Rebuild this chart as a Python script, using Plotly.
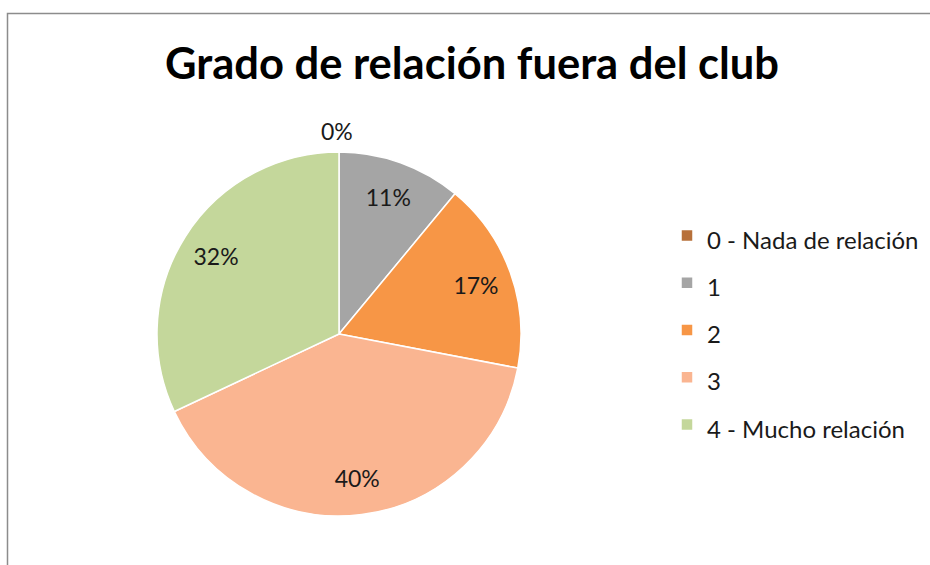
import plotly.graph_objects as go

categories = ["0 - Nada de relación", "1", "2", "3", "4 - Mucho relación"]
values = [0, 11, 17, 40, 32]
colors = ["#B7703A", "#A5A5A5", "#F79646", "#FAB591", "#C4D79B"]
title_text = "Grado de relación fuera del club"

W, H = 930, 565
FONT = "Lato, 'Open Sans', sans-serif"
TXT = "#1a1a1a"

legend_labels = ["<span style='font-size:24px'>%s</span>" % c for c in categories]
dom = dict(x=[157 / W, 521 / W], y=[1 - 516 / H, 1 - 152 / H])
total = sum(values)

# base pie: the coloured slices and the legend
pie = go.Pie(
    labels=legend_labels,
    values=values,
    sort=False,
    direction="clockwise",
    rotation=0,
    marker=dict(colors=colors, line=dict(color="white", width=1.5)),
    textinfo="none",
    hoverinfo="skip",
    domain=dom,
)

# transparent ring on top carrying the percentage labels further out
ring_text = ["%d%%" % round(100 * v / total) if v > 0 else "" for v in values]
ring = go.Pie(
    labels=legend_labels,
    values=values,
    sort=False,
    direction="clockwise",
    rotation=0,
    hole=0.6,
    marker=dict(colors=["rgba(0,0,0,0)"] * len(values), line=dict(width=0)),
    text=ring_text,
    textinfo="text",
    textposition="inside",
    insidetextorientation="horizontal",
    textfont=dict(family=FONT, size=23, color=TXT),
    hoverinfo="skip",
    showlegend=False,
    domain=dom,
)

fig = go.Figure([pie, ring])

# the zero slice sits at the top of the pie: its label goes just above it
zero_idx = [i for i, v in enumerate(values) if v == 0]
annotations = []
for i in zero_idx:
    annotations.append(dict(
        text="%d%%" % round(100 * values[i] / total),
        xref="paper", yref="paper",
        x=(dom["x"][0] + dom["x"][1]) / 2, y=dom["y"][1],
        xanchor="center", yanchor="bottom", xshift=-2, yshift=5,
        showarrow=False, font=dict(family=FONT, size=23, color=TXT)))

fig.update_layout(
    width=W, height=H,
    margin=dict(l=0, r=0, t=0, b=0),
    paper_bgcolor="white",
    title=dict(text="<b>%s</b>" % title_text, x=472 / W, xanchor="center",
               y=1 - 64 / H, yanchor="middle", yref="container",
               font=dict(family=FONT, size=43.5, color="black")),
    legend=dict(x=667 / W, xanchor="left", y=1 - 207 / H, yanchor="top",
                font=dict(family=FONT, size=34, color=TXT),
                itemclick=False, itemdoubleclick=False),
    showlegend=True,
    annotations=annotations,
    shapes=[dict(type="rect", xref="paper", yref="paper",
                 x0=7.5 / W, x1=1.05, y0=-0.05, y1=1 - 13.5 / H,
                 line=dict(color="#8c8c8c", width=1.5), fillcolor="rgba(0,0,0,0)")],
)

fig.write_html("out.html", config={"displayModeBar": False},
               post_script="document.body.style.margin='0px';document.body.style.overflow='hidden';")
